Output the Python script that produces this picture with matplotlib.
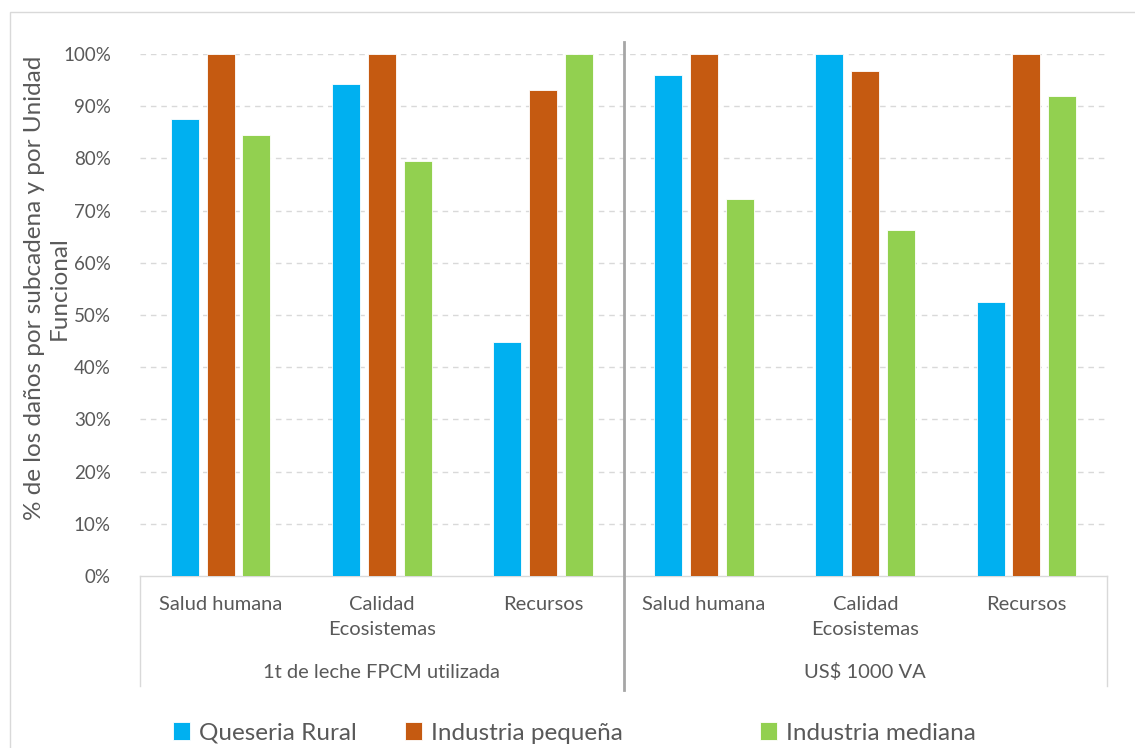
import matplotlib
matplotlib.use('Agg')
import matplotlib.pyplot as plt
import matplotlib.transforms as mtransforms
from matplotlib.patches import Rectangle
import numpy as np

plt.rcParams['font.family'] = ['Lato', 'DejaVu Sans']

# ── datos ──
categorias = ['Salud humana', 'Calidad\nEcosistemas', 'Recursos',
              'Salud humana', 'Calidad\nEcosistemas', 'Recursos']
grupos = ['1t de leche FPCM utilizada', 'US$ 1000 VA']
series = ['Queseria Rural', 'Industria pequeña', 'Industria mediana']
queseria_rural = [87.5, 94.3, 44.8, 95.9, 100.0, 52.4]
industria_pequena = [100.0, 100.0, 93.1, 100.0, 96.7, 100.0]
industria_mediana = [84.5, 79.5, 100.0, 72.2, 66.2, 92.0]
y_ticks = [0, 10, 20, 30, 40, 50, 60, 70, 80, 90, 100]

colores = ['#00B0F0', '#C55A11', '#92D050']
gris_txt = '#595959'

W, H = 1135, 748
fig = plt.figure(figsize=(W / 100, H / 100), dpi=100)

# borde del gráfico
fig.add_artist(Rectangle((10 / W, -0.1), 1.2, 1 - 12 / H + 0.1, transform=fig.transFigure,
                         fill=False, edgecolor='#d9d9d9', linewidth=1.0))

x0, x1, ytop, ybot = 140, 1107, 54, 576
ax = fig.add_axes([x0 / W, 1 - ybot / H, (x1 - x0) / W, (ybot - ytop) / H])

x = np.arange(len(categorias))
ancho = 0.174
paso = 0.222
barras = []
for i, (vals, col, lab) in enumerate(zip([queseria_rural, industria_pequena, industria_mediana],
                                         colores, series)):
    b = ax.bar(x + (i - 1) * paso, vals, width=ancho, color=col, edgecolor='white',
               linewidth=0.6, label=lab, zorder=3)
    barras.append(b)

ax.set_xlim(-0.5, len(categorias) - 0.5)
ax.set_ylim(0, 100)
ax.set_yticks(y_ticks)
ax.set_yticklabels([f'{v}%' for v in y_ticks], fontsize=13.5, color=gris_txt)
ax.tick_params(axis='y', length=0, pad=21)
ax.set_xticks([])
for s in ['top', 'right', 'left']:
    ax.spines[s].set_visible(False)
ax.spines['bottom'].set_color('#d9d9d9')
ax.spines['bottom'].set_linewidth(1.0)
for v in y_ticks[1:]:
    ax.axhline(v, color='#d9d9d9', linewidth=1.0, linestyle=(0, (4, 3.5)), zorder=1)

# etiquetas de categorías y grupos
trans = mtransforms.blended_transform_factory(ax.transData, ax.transAxes)
hpx = ybot - ytop
for xi, cat in zip(x, categorias):
    ax.text(xi, -(596 - ybot) / hpx, cat, transform=trans, ha='center', va='top',
            fontsize=14.5, color=gris_txt, linespacing=1.6)
for gi, g in enumerate(grupos):
    ax.text(gi * 3 + 1, -(672 - ybot) / hpx, g, transform=trans, ha='center', va='center',
            fontsize=14.5, color=gris_txt)

# líneas de la caja de categorías
ax.plot([-0.5, -0.5], [0, -(686 - ybot) / hpx], transform=trans, color='#d9d9d9',
        linewidth=1.0, clip_on=False)
ax.plot([5.5, 5.5], [0, -(686 - ybot) / hpx], transform=trans, color='#d9d9d9',
        linewidth=1.0, clip_on=False)
ax.plot([2.5, 2.5], [(ybot - 42) / hpx, -(690 - ybot) / hpx], transform=trans,
        color='#a6a6a6', linewidth=2.0, clip_on=False, zorder=4)

# título del eje y
fig.text(47 / W, 1 - 288 / H, '% de los daños por subcadena y por Unidad\nFuncional',
         rotation=90, ha='center', va='center', fontsize=17.5, color=gris_txt,
         multialignment='center', linespacing=1.25)

# leyenda: cada entrada en su posición
for b, lab, xl in zip(barras, series, [173, 405, 760]):
    fig.legend([b], [lab], loc='center left', bbox_to_anchor=(xl / W, 1 - 733 / H),
               frameon=False, fontsize=17.5, labelcolor=gris_txt, handlelength=0.7,
               handleheight=0.7, handletextpad=0.35, borderpad=0, borderaxespad=0)

fig.savefig('out.png', dpi=100)
